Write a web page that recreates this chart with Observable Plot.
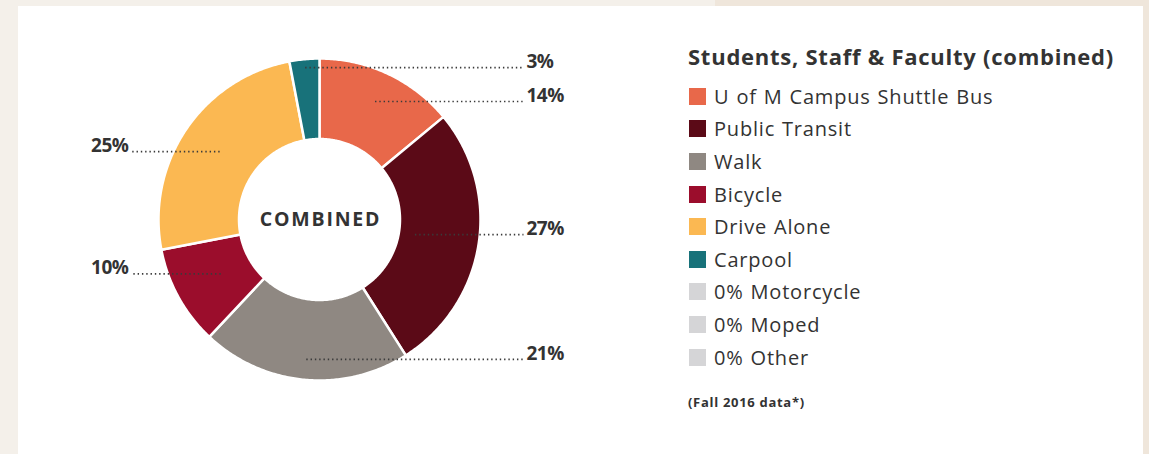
<!DOCTYPE html>
<html>
<head>
<meta charset="utf-8">
<script src="https://cdn.jsdelivr.net/npm/d3@7"></script>
<script src="https://cdn.jsdelivr.net/npm/@observablehq/plot@0.6"></script>
<style>
  html, body { margin: 0; padding: 0; }
  body {
    width: 1149px; height: 454px; overflow: hidden; position: relative;
    background: linear-gradient(to right, #f4f0ea 0 715px, #efe6db 715px);
    font-family: "Open Sans", sans-serif; color: #333;
  }
  #panel { position: absolute; left: 18px; top: 6px; width: 1125px; height: 448px; background: #fff; }
  #chart { position: absolute; left: 0; top: 0; }
  #legend { position: absolute; left: 688px; top: 42px; }
  #legend .title { font-weight: 700; font-size: 22px; letter-spacing: 0.75px; color: #333; margin-bottom: 10px; white-space: nowrap; line-height: 28px; }
  #legend .row { display: flex; align-items: center; height: 32.6px; font-size: 20px; letter-spacing: 0.8px; word-spacing: 1px; color: #333; white-space: nowrap; }
  #legend .sw { width: 17px; height: 17px; margin-left: 1px; margin-right: 8px; flex: none; }
  #legend .note { font-size: 13px; font-weight: 700; margin-top: 20px; color: #333; letter-spacing: 0.7px; }
</style>
</head>
<body>
<div id="panel"></div>
<div id="chart"></div>
<div id="legend"></div>
<script>
// ---- data ----
const categories = ["U of M Campus Shuttle Bus", "Public Transit", "Walk", "Bicycle", "Drive Alone", "Carpool"];
const shares = [14, 27, 21, 10, 25, 3];
const colors = ["#e8684a", "#5b0a17", "#8f8882", "#9b0d2c", "#fbb852", "#18727a"];
const zeroCategories = ["Motorcycle", "Moped", "Other"];
const zeroShares = [0, 0, 0];
const zeroColor = "#d5d5d7";
const legendTitle = "Students, Staff & Faculty (combined)";
const centerLabel = "COMBINED";
const footnote = "(Fall 2016 data*)";

// ---- layout (not data) ----
const innerR = 0.5;
const leaderR = {"U of M Campus Shuttle Bus": 0.81, "Public Transit": 0.6, "Walk": 0.873, "Bicycle": 0.7, "Drive Alone": 0.75, "Carpool": 0.948};
const rightSide = new Set(["U of M Campus Shuttle Bus", "Public Transit", "Walk", "Carpool"]);
const labelXRight = 1.267, labelXLeft = -1.168;

// build slice polygons from the shares
const total = d3.sum(shares);
const points = [];
const leaders = [];
let cum = 0;
categories.forEach((name, i) => {
  const a0 = cum / total * 2 * Math.PI;
  cum += shares[i];
  const a1 = cum / total * 2 * Math.PI;
  const n = Math.max(2, Math.ceil((a1 - a0) / 0.01));
  for (let k = 0; k <= n; k++) {
    const a = a0 + (a1 - a0) * k / n;
    points.push({name, x: Math.sin(a), y: Math.cos(a)});
  }
  for (let k = n; k >= 0; k--) {
    const a = a0 + (a1 - a0) * k / n;
    points.push({name, x: innerR * Math.sin(a), y: innerR * Math.cos(a)});
  }
  const am = (a0 + a1) / 2;
  const r = leaderR[name];
  const ax = r * Math.sin(am), ay = r * Math.cos(am);
  const right = rightSide.has(name);
  leaders.push({name, x1: ax, y1: ay, x2: right ? labelXRight : labelXLeft, y2: ay, right, label: shares[i] + "%"});
});

const plot = Plot.plot({
  width: 680,
  height: 454,
  margin: 0,
  x: {domain: [-1, 1], range: [158, 480], axis: null},
  y: {domain: [-1, 1], range: [380, 58], axis: null},
  color: {domain: categories, range: colors},
  style: {fontFamily: "'Open Sans', sans-serif", background: "transparent", overflow: "visible"},
  marks: [
    Plot.line(points, {x: "x", y: "y", z: "name", fill: "name", stroke: "white", strokeWidth: 2.5, curve: "linear-closed"}),
    Plot.link(leaders, {x1: "x1", y1: "y1", x2: "x2", y2: "y2", stroke: "#3a3a3a", strokeWidth: 1.7, strokeDasharray: "1.4 2.9"}),
    Plot.text(leaders.filter(d => d.right), {x: "x2", y: "y2", text: "label", textAnchor: "start", dx: 3, dy: -6, fontSize: 19, fontWeight: 700, fill: "#333"}),
    Plot.text(leaders.filter(d => !d.right), {x: "x2", y: "y2", text: "label", textAnchor: "end", dx: -3, dy: -6, fontSize: 19, fontWeight: 700, fill: "#333"}),
    Plot.text([centerLabel], {x: () => 0, y: () => 0, text: d => d, fontSize: 19.5, fontWeight: 700, fill: "#333", dx: 1})
  ]
});
const svgText = d3.select(plot).selectAll("text");
svgText.style("letter-spacing", "-0.5px");
svgText.filter(function() { return this.textContent === centerLabel; }).style("letter-spacing", "1.8px");
document.getElementById("chart").append(plot);

// legend
const legend = d3.select("#legend");
legend.append("div").attr("class", "title").text(legendTitle);
const rows = categories.map((c, i) => ({label: c, color: colors[i]}))
  .concat(zeroCategories.map((c, i) => ({label: zeroShares[i] + "% " + c, color: zeroColor})));
const row = legend.selectAll(".row").data(rows).join("div").attr("class", "row");
row.append("div").attr("class", "sw").style("background", d => d.color);
row.append("span").text(d => d.label);
legend.append("div").attr("class", "note").text(footnote);
</script>
</body>
</html>
